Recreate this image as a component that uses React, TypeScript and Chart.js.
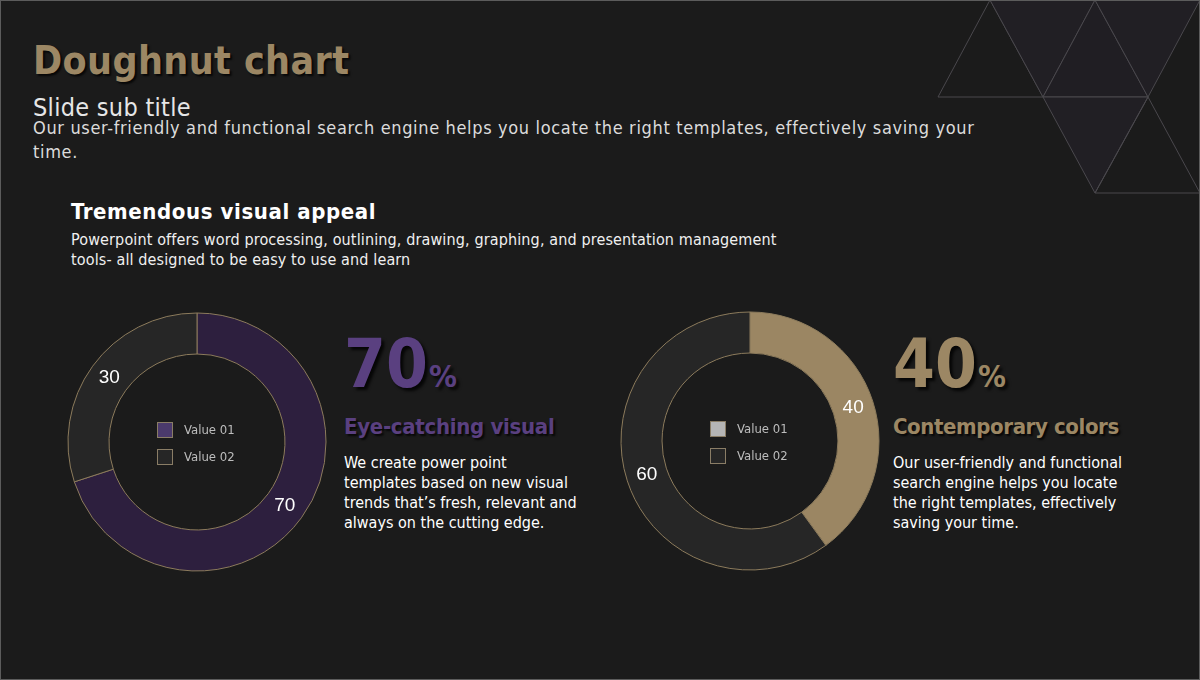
import React, { useEffect, useRef } from "react";
import { Chart, registerables } from "chart.js";

Chart.register(...registerables);

// ---- data ----
const legendLabels = ["Value 01", "Value 02"];
const leftValues = [70, 30];
const rightValues = [40, 60];
const leftColors = ["#2d1f3e", "#262626"];
const rightColors = ["#9b8663", "#262626"];
const leftLegendColors = ["#4b3a6c", "#262626"];
const rightLegendColors = ["#b5b5b5", "#262626"];

const FONT = '"DejaVu Sans Condensed", "DejaVu Sans", Tahoma, sans-serif';
const TAN = "#9c8764";
const PURPLE = "#5a4080";

const ringPlugin = {
  id: "ringExtras",
  afterDraw(chart: any, _args: any, opts: any) {
    const ctx = chart.ctx;
    const meta = chart.getDatasetMeta(0);
    const values = chart.data.datasets[0].data;
    ctx.save();
    ctx.font = '19px "Liberation Sans", Arial, sans-serif';
    ctx.fillStyle = "#ffffff";
    ctx.textAlign = "center";
    ctx.textBaseline = "middle";
    meta.data.forEach((arc: any, i: number) => {
      const p = arc.tooltipPosition(false);
      ctx.fillText(String(values[i]), p.x, p.y);
    });
    const cx = (chart.chartArea.left + chart.chartArea.right) / 2;
    const cy = (chart.chartArea.top + chart.chartArea.bottom) / 2;
    (chart.data.labels as string[]).forEach((lab, i) => {
      const y = cy - 12 + i * 27;
      ctx.fillStyle = opts.legendColors[i];
      ctx.fillRect(cx - 40, y - 8, 16, 16);
      ctx.strokeStyle = "#8a7d66";
      ctx.lineWidth = 1;
      ctx.strokeRect(cx - 39.5, y - 7.5, 15, 15);
      ctx.fillStyle = "#bdbdbd";
      ctx.font = "13px " + FONT;
      ctx.textAlign = "left";
      ctx.fillText(lab, cx - 13, y + 1);
    });
    ctx.restore();
  },
};

function Ring({ values, colors, legendColors, left, top }: any) {
  const ref = useRef<HTMLCanvasElement>(null);
  useEffect(() => {
    const chart = new Chart(ref.current as HTMLCanvasElement, {
      type: "doughnut",
      data: {
        labels: legendLabels,
        datasets: [
          {
            data: values,
            backgroundColor: colors,
            borderColor: "#8c7b5c",
            borderWidth: 1,
          },
        ],
      },
      options: {
        responsive: false,
        animation: false,
        radius: 129,
        cutout: "68.2%",
        layout: { padding: 0 },
        plugins: {
          legend: { display: false },
          tooltip: { enabled: false },
          ringExtras: { legendColors },
        } as any,
      },
      plugins: [ringPlugin],
    });
    return () => chart.destroy();
  }, []);
  return (
    <canvas
      ref={ref}
      width={280}
      height={280}
      style={{ position: "absolute", left, top, width: 280, height: 280 }}
    />
  );
}

// top = baseline - L/2 - 0.346F (DejaVu metrics)
function T({ x, base, size, lh, bold, color, shadow, children, ls }: any) {
  const top = base - lh / 2 - 0.346 * size;
  return (
    <div
      style={{
        position: "absolute",
        left: x,
        top,
        fontFamily: FONT,
        fontSize: size,
        lineHeight: lh + "px",
        fontWeight: bold ? 700 : 400,
        color,
        whiteSpace: "nowrap",
        letterSpacing: ls || 0,
        textShadow: shadow ? "2px 2px 2px rgba(0,0,0,0.75)" : "none",
      }}
    >
      {children}
    </div>
  );
}

function Big({ x, color, num }: any) {
  const size = 67;
  const lh = 70;
  const base = 387;
  return (
    <div
      style={{
        position: "absolute",
        left: x,
        top: base - lh / 2 - 0.346 * size,
        fontFamily: FONT,
        fontWeight: 700,
        fontSize: size,
        lineHeight: lh + "px",
        color,
        whiteSpace: "nowrap",
        textShadow: "3px 3px 3px rgba(0,0,0,0.8)",
      }}
    >
      {num}
      <span style={{ fontSize: 31, marginLeft: 1 }}>%</span>
    </div>
  );
}

export default function App() {
  useEffect(() => {
    document.body.style.margin = "0";
  }, []);
  return (
    <div
      style={{
        position: "fixed",
        left: 0,
        top: 0,
        width: 1200,
        height: 680,
        background: "#1b1b1b",
        overflow: "hidden",
      }}
    >
      <svg width={1200} height={680} style={{ position: "absolute", left: 0, top: 0 }}>
        <g stroke="#4a484d" strokeWidth={1}>
          <polygon points="938,97 990,0 1043,97" fill="none" />
          <polygon points="990,0 1095,0 1043,97" fill="#211f24" />
          <polygon points="1043,97 1095,0 1148,97" fill="#201e23" />
          <polygon points="1095,0 1200,0 1148,97" fill="#211f24" />
          <polygon points="1043,97 1148,97 1095,193" fill="#211f24" />
          <polygon points="1095,193 1148,97 1200,193" fill="none" />
        </g>
      </svg>

      <T x={33} base={74} size={39} lh={46} bold color={TAN} shadow ls={0.4}>
        Doughnut chart
      </T>
      <T x={33} base={117} size={25} lh={30} color="#e6e6e6" ls={0.3}>
        Slide sub title
      </T>
      <T x={33} base={134} size={18} lh={24} color="#dcdcdc" ls={0.65}>
        Our user-friendly and functional search engine helps you locate the right templates, effectively saving your
        <br />
        time.
      </T>

      <T x={71} base={220} size={22} lh={26} bold color="#ffffff" ls={0.6}>
        Tremendous visual appeal
      </T>
      <T x={71} base={246} size={16} lh={20} color="#f0f0f0" ls={0.13}>
        Powerpoint offers word processing, outlining, drawing, graphing, and presentation management
        <br />
        tools- all designed to be easy to use and learn
      </T>

      <Ring values={leftValues} colors={leftColors} legendColors={leftLegendColors} left={57} top={302} />
      <Ring values={rightValues} colors={rightColors} legendColors={rightLegendColors} left={610} top={301} />

      <Big x={344} color={PURPLE} num="70" />
      <T x={344} base={435} size={22} lh={28} bold color={PURPLE} shadow ls={-0.3}>
        Eye-catching visual
      </T>
      <T x={344} base={469} size={16} lh={20} color="#ffffff">
        We create power point
        <br />
        templates based on new visual
        <br />
        trends that’s fresh, relevant and
        <br />
        always on the cutting edge.
      </T>

      <Big x={893} color={TAN} num="40" />
      <T x={893} base={435} size={22} lh={28} bold color={TAN} shadow ls={-0.4}>
        Contemporary colors
      </T>
      <T x={893} base={469} size={16} lh={20} color="#ffffff">
        Our user-friendly and functional
        <br />
        search engine helps you locate
        <br />
        the right templates, effectively
        <br />
        saving your time.
      </T>

      <div
        style={{
          position: "absolute",
          left: 0,
          top: 0,
          width: 1200,
          height: 680,
          boxSizing: "border-box",
          border: "1px solid #5c5c5c",
          pointerEvents: "none",
        }}
      />
    </div>
  );
}
